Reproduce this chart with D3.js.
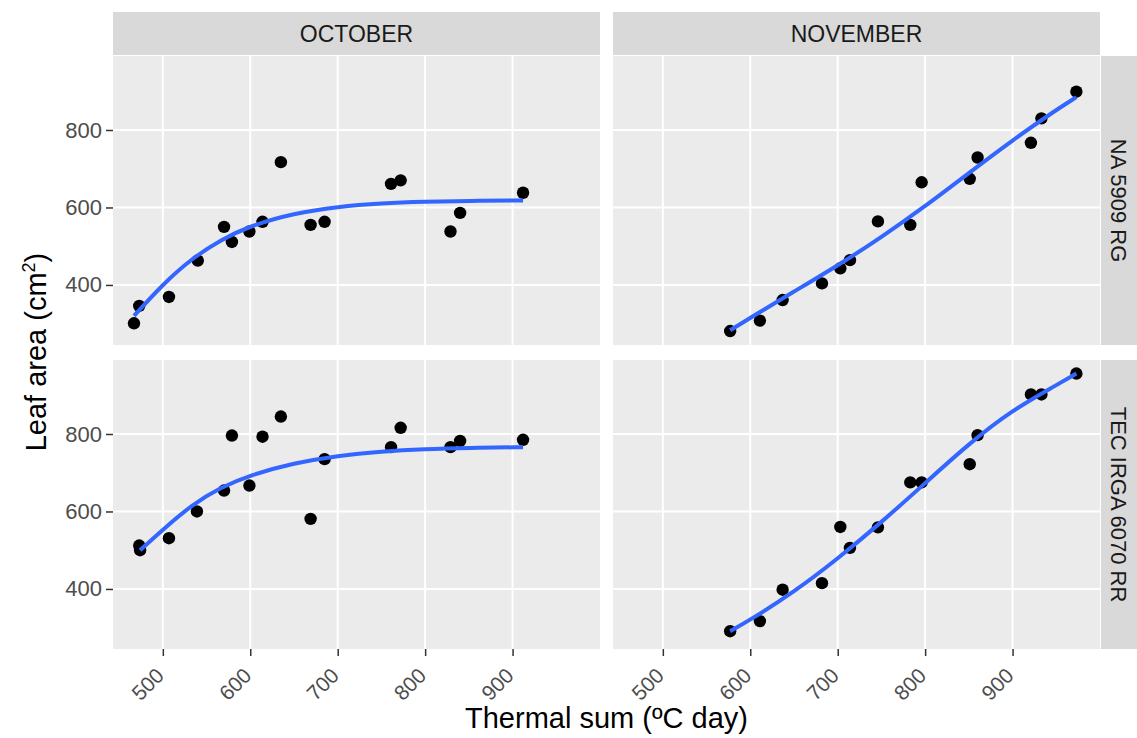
<!DOCTYPE html>
<html>
<head>
  <meta charset="utf-8">
  <title>Leaf area vs thermal sum</title>
  <script src="https://d3js.org/d3.v7.min.js"></script>
  <style>
    body { margin: 0; background: #fff; }
    text { font-family: "Liberation Sans", Arial, sans-serif; }
  </style>
</head>
<body>
  <div id="chart"></div>

  <script>
    // Facets
    const months = ['OCTOBER', 'NOVEMBER'];
    const cultivars = ['NA 5909 RG', 'TEC IRGA 6070 RR'];

    // October observations
    const octSumNA = [467, 473, 507, 540, 570, 579, 599, 614, 635, 669, 685, 761, 772, 829, 840, 912];
    const octAreaNA = [301, 346, 369, 463, 550, 511, 538, 563, 717, 555, 563, 661, 670, 538, 586, 638];
    const octSumTEC = [473, 474, 507, 539, 570, 579, 599, 614, 635, 669, 685, 761, 772, 829, 840, 912];
    const octAreaTEC = [512, 500, 531, 600, 654, 796, 667, 793, 845, 581, 735, 766, 816, 766, 782, 785];

    // November observations
    const novSum = [577, 611, 637, 682, 703, 714, 746, 783, 796, 851, 860, 921, 933, 973];
    const novAreaNA = [281, 308, 361, 404, 443, 464, 564, 555, 665, 674, 729, 767, 830, 899];
    const novAreaTEC = [291, 317, 398, 415, 560, 506, 559, 675, 675, 722, 797, 902, 902, 956];

    // Fitted curves
    const octFitSumNA = [467, 500, 533, 566, 600, 650, 700, 750, 800, 850, 912];
    const octFitNA = [320, 402, 468, 516, 553, 585, 602, 611, 615, 617, 618];
    const octFitSumTEC = [474, 500, 533, 566, 600, 650, 700, 750, 800, 850, 912];
    const octFitTEC = [500, 553, 617, 662, 694, 725, 744, 755, 761, 764, 766];
    const novFitSum = [577, 600, 650, 700, 750, 800, 850, 900, 950, 973];
    const novFitNA = [283, 315, 383, 450, 523, 603, 689, 774, 852, 885];
    const novFitTEC = [291, 320, 392, 478, 572, 673, 775, 862, 926, 956];

    const xTicks = [500, 600, 700, 800, 900];
    const yTicks = [400, 600, 800];

    const zip = (xs, ys) => xs.map((x, i) => ({ x: x, y: ys[i] }));

    // panels[row][col]
    const panels = [
      [
        { pts: zip(octSumNA, octAreaNA), fit: zip(octFitSumNA, octFitNA) },
        { pts: zip(novSum, novAreaNA), fit: zip(novFitSum, novFitNA) }
      ],
      [
        { pts: zip(octSumTEC, octAreaTEC), fit: zip(octFitSumTEC, octFitTEC) },
        { pts: zip(novSum, novAreaTEC), fit: zip(novFitSum, novFitTEC) }
      ]
    ];

    const width = 1137;
    const height = 738;
    const panelW = 487;
    const panelH = 289;
    const colX = [113, 613];
    const rowY = [56, 360];

    const svg = d3.select('#chart')
      .append('svg')
      .attr('width', width)
      .attr('height', height);

    const xScale = d3.scaleLinear().domain([443, 1000]).range([0, panelW]);
    const yScale = d3.scaleLinear().domain([245, 991]).range([panelH, 0]);

    const line = d3.line()
      .x(d => xScale(d.x))
      .y(d => yScale(d.y))
      .curve(d3.curveBasis);

    panels.forEach((row, r) => {
      row.forEach((p, c) => {
        const g = svg.append('g')
          .attr('transform', `translate(${colX[c]},${rowY[r]})`);

        g.append('rect')
          .attr('width', panelW)
          .attr('height', panelH)
          .attr('fill', '#EBEBEB');

        // grid
        g.selectAll('.gx')
          .data(xTicks)
          .enter().append('line')
          .attr('x1', d => xScale(d)).attr('x2', d => xScale(d))
          .attr('y1', 0).attr('y2', panelH)
          .attr('stroke', '#fff').attr('stroke-width', 2);

        g.selectAll('.gy')
          .data(yTicks)
          .enter().append('line')
          .attr('x1', 0).attr('x2', panelW)
          .attr('y1', d => yScale(d)).attr('y2', d => yScale(d))
          .attr('stroke', '#fff').attr('stroke-width', 2);

        g.selectAll('.pt')
          .data(p.pts)
          .enter().append('circle')
          .attr('cx', d => xScale(d.x))
          .attr('cy', d => yScale(d.y))
          .attr('r', 6.2)
          .attr('fill', '#000');

        g.append('path')
          .datum(p.fit)
          .attr('d', line)
          .attr('fill', 'none')
          .attr('stroke', '#3366FF')
          .attr('stroke-width', 4);

        // y axis on the left column
        if (c === 0) {
          const ya = g.append('g')
            .call(d3.axisLeft(yScale).tickValues(yTicks).tickSize(7).tickPadding(4));
          ya.select('.domain').remove();
          ya.selectAll('line').attr('stroke', '#333').attr('stroke-width', 1.5);
          ya.selectAll('text')
            .attr('fill', '#4D4D4D')
            .style('font-size', '22px')
            .style('font-family', '"Liberation Sans", Arial, sans-serif');
        }

        // x axis on the bottom row
        if (r === 1) {
          const xa = g.append('g')
            .attr('transform', `translate(0,${panelH})`)
            .call(d3.axisBottom(xScale).tickValues(xTicks).tickSize(7));
          xa.select('.domain').remove();
          xa.selectAll('line').attr('stroke', '#333').attr('stroke-width', 1.5);
          xa.selectAll('text')
            .attr('fill', '#4D4D4D')
            .attr('dy', null)
            .attr('y', 0)
            .attr('text-anchor', 'end')
            .attr('transform', 'translate(2,28) rotate(-45)')
            .style('font-size', '21px')
            .style('font-family', '"Liberation Sans", Arial, sans-serif');
        }
      });
    });

    // top strips
    months.forEach((m, c) => {
      svg.append('rect')
        .attr('x', colX[c]).attr('y', 12)
        .attr('width', panelW).attr('height', 43)
        .attr('fill', '#D9D9D9');
      svg.append('text')
        .attr('x', colX[c] + panelW / 2).attr('y', 42)
        .attr('text-anchor', 'middle')
        .attr('fill', '#1A1A1A')
        .style('font-size', '23px')
        .text(m);
    });

    // right strips
    cultivars.forEach((cv, r) => {
      svg.append('rect')
        .attr('x', 1101).attr('y', rowY[r])
        .attr('width', 36).attr('height', panelH)
        .attr('fill', '#D9D9D9');
      svg.append('text')
        .attr('transform', `translate(1111,${rowY[r] + panelH / 2}) rotate(90)`)
        .attr('text-anchor', 'middle')
        .attr('fill', '#1A1A1A')
        .style('font-size', '22px')
        .text(cv);
    });

    // axis titles
    svg.append('text')
      .attr('x', (colX[0] + colX[1] + panelW) / 2)
      .attr('y', 728)
      .attr('text-anchor', 'middle')
      .attr('fill', '#000')
      .style('font-size', '29px')
      .text('Thermal sum (ºC day)');

    const yTitle = svg.append('text')
      .attr('transform', 'translate(46,352) rotate(-90)')
      .attr('text-anchor', 'middle')
      .attr('fill', '#000')
      .style('font-size', '29px');
    yTitle.append('tspan').text('Leaf area (cm');
    yTitle.append('tspan').attr('dy', -11).style('font-size', '18px').text('2');
    yTitle.append('tspan').attr('dy', 11).text(')');
  </script>
</body>
</html>
